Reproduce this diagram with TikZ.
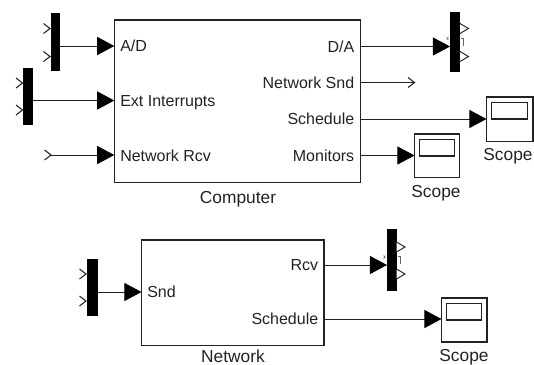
\documentclass[tikz,border=0pt]{standalone}
\usepackage{fontspec}
\setmainfont{Liberation Sans}
\usetikzlibrary{arrows.meta}
\definecolor{ink}{HTML}{222222}
\tikzset{
  px/.style={x=0.75pt,y=-0.75pt},
  block/.style={draw=ink,line width=0.95pt,fill=none,inner sep=0pt,outer sep=0pt},
  bar/.style={draw=none,fill=black,inner sep=0pt,outer sep=0pt},
  wire/.style={draw=ink,line width=0.75pt,-{Triangle[length=12.8pt,width=13.5pt,color=black]}},
  openwire/.style={draw=ink,line width=0.75pt},
  chev/.style={draw=ink,line width=0.8pt,fill=none,line join=miter},
  tri/.style={draw=ink,line width=0.7pt,fill=white,line join=miter},
  porttext/.style={font=\fontsize{12pt}{14pt}\selectfont,text=ink,inner sep=0pt,text height=8.6pt,text depth=0pt},
  captext/.style={font=\fontsize{13pt}{14pt}\selectfont,text=ink,inner sep=0pt,text height=9pt,text depth=0pt},
  tickmark/.style={draw=ink!70,line width=0.4pt}
}
% name, x0, y0, x1, y1, style
\newcommand{\boxpx}[6]{\node[#6,minimum width={((#4)-(#2))*0.75pt},minimum height={((#5)-(#3))*0.75pt}] (#1) at ({((#2)+(#4))/2},{((#3)+(#5))/2}) {};}
\newcommand{\chevron}[2]{\draw[chev] (#1-6.5,#2-5) -- (#1,#2) -- (#1-6.5,#2+5);}
\newcommand{\opentri}[2]{\draw[tri] (#1,#2-5) -- (#1+8.5,#2) -- (#1,#2+5);}
\newcommand{\scopepx}[5]{% name x0 y0 x1 y1
  \boxpx{#1}{#2}{#3}{#4}{#5}{block}
  \boxpx{#1in}{#2+5.2}{#3+5.5}{#4-5.2}{#3+22}{block}
}
\begin{document}
\begin{tikzpicture}[px]
\useasboundingbox (0,0) rectangle (534,364);
% main blocks
\boxpx{comp}{114.3}{20}{360.5}{182.5}{block}
\boxpx{net}{141.5}{240}{324}{345.5}{block}
% mux and demux bars
\boxpx{muxa}{50.5}{13}{60.2}{71}{bar}
\boxpx{muxb}{23}{68}{33}{124.5}{bar}
\boxpx{muxc}{86.5}{259}{97.5}{316}{bar}
\boxpx{dema}{450}{12}{460}{72}{bar}
\boxpx{demb}{387}{229}{396.5}{291}{bar}
% scopes
\scopepx{scopea}{486.5}{97}{533}{141.5}
\scopepx{scopeb}{414.5}{134}{459.5}{177.5}
\scopepx{scopec}{441.5}{298}{487}{342}
% port labels
\node[porttext,anchor=west] (ad) at (120,46) {A/D};
\node[porttext,anchor=west] (ext) at (120,100.5) {Ext Interrupts};
\node[porttext,anchor=west] (nrcv) at (120,155.5) {Network Rcv};
\node[porttext,anchor=east] (da) at (354.5,46.5) {D/A};
\node[porttext,anchor=east] (nsnd) at (354.5,82.5) {Network Snd};
\node[porttext,anchor=east] (sch) at (354.5,119) {Schedule};
\node[porttext,anchor=east] (mon) at (354.5,155.5) {Monitors};
\node[porttext,anchor=west] (snd) at (147,292) {Snd};
\node[porttext,anchor=east] (rcv) at (318.5,265) {Rcv};
\node[porttext,anchor=east] (nsch) at (318.5,319) {Schedule};
% captions
\node[captext] (compcap) at (238,197) {Computer};
\node[captext] (netcap) at (233,356.5) {Network};
\node[captext] (scapa) at (508,154) {Scope};
\node[captext] (scapb) at (436,191) {Scope};
\node[captext] (scapc) at (464,355) {Scope};
% free ends
\coordinate (rcvin) at (51,155);
\coordinate (sndout) at (414,82.5);
% connectors
\draw[wire] (muxa.east |- ad) -- (comp.west |- ad);
\draw[wire] (muxb.east |- ext) -- (comp.west |- ext);
\draw[wire] (rcvin) -- (comp.west |- rcvin);
\draw[wire] (comp.east |- da) -- (dema.west |- da);
\draw[openwire] (comp.east |- sndout) -- (sndout);
\draw[wire] (comp.east |- sch) -- (scopea.west |- sch);
\draw[wire] (comp.east |- mon) -- (scopeb.west |- mon);
\draw[wire] (muxc.east |- snd) -- (net.west |- snd);
\draw[wire] (net.east |- rcv) -- (demb.west |- rcv);
\draw[wire] (net.east |- nsch) -- (scopec.west |- nsch);
% open signal ends
\chevron{50}{28.5}\chevron{50}{56.5}
\chevron{22.5}{83}\chevron{22.5}{110}
\chevron{51}{155}
\chevron{414.5}{82.5}
\chevron{86}{274}\chevron{86}{301}
\opentri{460}{28.5}\opentri{460}{56.5}
\opentri{396.5}{247}\opentri{396.5}{274}
% tiny marks by the demuxes
\draw[tickmark] (446.5,37) -- (448.5,40) (448.5,37) -- (446.5,40);
\draw[tickmark] (461,38.5) -- (463.5,38.5) -- (463.5,46);
\draw[tickmark] (383.5,255.5) -- (385.5,258.5) (385.5,255.5) -- (383.5,258.5);
\draw[tickmark] (398,256.5) -- (400,256.5) -- (400,264);
\end{tikzpicture}
\end{document}
